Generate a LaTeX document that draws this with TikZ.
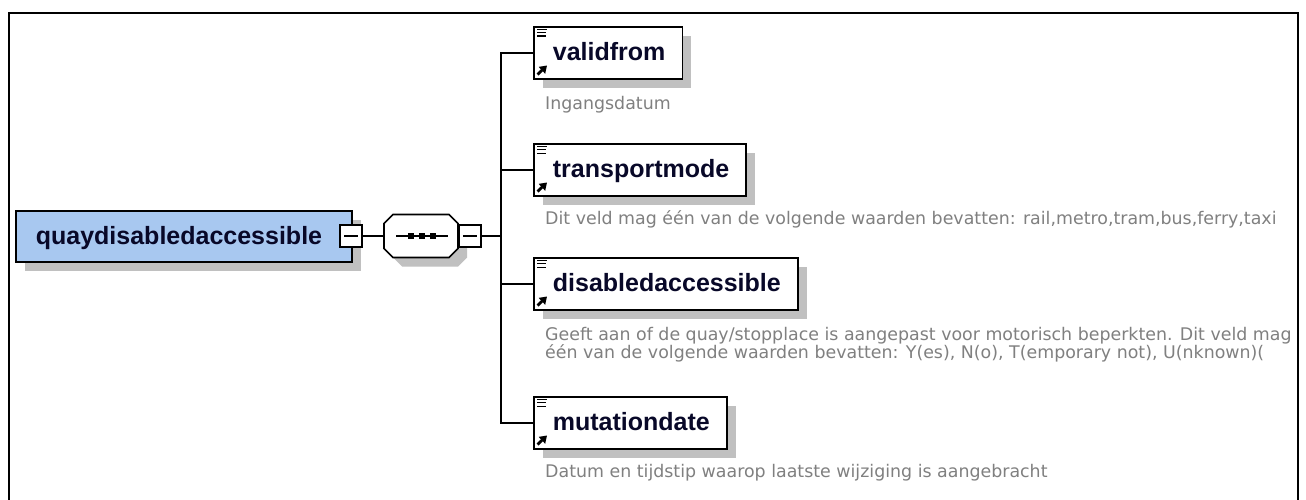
\documentclass[tikz,border=0pt]{standalone}
\usepackage{fontspec}
\usetikzlibrary{shadows,arrows.meta}
\newfontfamily\namefont{Liberation Sans}
\newfontfamily\descfont{DejaVu Sans}
\definecolor{boxblue}{RGB}{168,200,240}
\definecolor{shadowgray}{RGB}{192,192,192}
\definecolor{desccol}{RGB}{128,128,128}
\definecolor{namecol}{RGB}{8,8,40}
\tikzset{
  pics/elemicons/.style={code={
    \draw[line width=1.2pt] (4,3.5) -- (14,3.5) (4,6.8) -- (13,6.8) (4,10.1) -- (13,10.1);
    \draw[line width=2.8pt, -{Triangle[length=7pt,width=9pt]}] (4.5,48.5) -- (14,39.5);
  }}
}
\begin{document}
\begin{tikzpicture}[x=1pt,y=-1pt,
  conn/.style={line width=1.7pt},
  shad/.style={drop shadow={shadow xshift=9pt,shadow yshift=-9pt,fill=shadowgray,opacity=1}},
  namefnt/.style={font=\namefont\bfseries\fontsize{25}{28}\selectfont, text=namecol},
  elem/.style={draw, line width=1.8pt, fill=white, shad, minimum height=52pt,
    inner xsep=0pt, inner ysep=0pt, text height=20pt, text depth=4pt, namefnt, anchor=north west},
  desc/.style={inner sep=0pt, anchor=base west, text=desccol,
    font=\descfont\fontsize{17.4}{18}\selectfont},
  minusbox/.style={draw, line width=1.5pt, fill=white, minimum size=22pt, inner sep=0pt},
]
\useasboundingbox (0,0) rectangle (1306,500);
\fill[white] (0,0) rectangle (1306,500);
% outer frame
\draw[line width=2pt] (9,500) -- (9,13) -- (1298,13) -- (1298,500);

% root element
\node[draw, line width=1.8pt, fill=boxblue, shad, minimum width=336pt, minimum height=51pt,
  inner sep=0pt, text height=20pt, text depth=4pt, namefnt] (main) at (184,236.5)
  {quaydisabledaccessible\hspace*{10pt}};
\node[minusbox] (m1) at (351,236) {};
\draw[line width=1.4pt] ([xshift=-7pt]m1.center) -- ([xshift=7pt]m1.center);

% sequence compositor
\node[minimum width=74pt, minimum height=43pt, inner sep=0pt] (seq) at (421,236) {};
\begin{scope}[shift={(seq.center)}]
  \fill[shadowgray, shift={(9,9)}] (-28,-21.5) -- (28,-21.5) -- (37,-12.5) -- (37,12.5)
    -- (28,21.5) -- (-28,21.5) -- (-37,12.5) -- (-37,-12.5) -- cycle;
  \draw[line width=1.6pt, fill=white] (-28,-21.5) -- (28,-21.5) -- (37,-12.5) -- (37,12.5)
    -- (28,21.5) -- (-28,21.5) -- (-37,12.5) -- (-37,-12.5) -- cycle;
  \draw[line width=1.6pt] (-25,0) -- (27,0);
  \fill (-13,-3) rectangle (-7,3);
  \fill (-2,-3) rectangle (4,3);
  \fill (9,-3) rectangle (15,3);
\end{scope}
\node[minusbox, anchor=west] (m2) at (seq.east) {};
\draw[line width=1.4pt] ([xshift=-7pt]m2.center) -- ([xshift=7pt]m2.center);

\draw[conn] (m1.east) -- (seq.west);
\coordinate (J) at (501,236);
\draw[conn] (m2.east) -- (J);

% child elements
\node[elem] (vf) at (533,26) {\hspace*{19pt}validfrom\hspace*{17pt}};
\node[elem] (tm) at (533,143) {\hspace*{19pt}transportmode\hspace*{17pt}};
\node[elem] (da) at (533,257) {\hspace*{19pt}disabledaccessible\hspace*{17pt}};
\node[elem] (md) at (533,396) {\hspace*{19pt}mutationdate\hspace*{17pt}};
\pic at (vf.north west) {elemicons};
\pic at (tm.north west) {elemicons};
\pic at (da.north west) {elemicons};
\pic at (md.north west) {elemicons};

\draw[conn] (J) |- (vf.west);
\draw[conn] (J) |- (tm.west);
\draw[conn] (J) |- (da.west);
\draw[conn] (J) |- (md.west);

% annotations
\node[desc] (d1) at (545,110) {Ingangsdatum};
\node[desc] (d2) at (545,224) {Dit veld mag één van de volgende waarden bevatten: rail,metro,tram,bus,ferry,taxi};
\node[desc, align=left, anchor=north west] (d3) at (545,327)
  {Geeft aan of de quay/stopplace is aangepast voor motorisch beperkten. Dit veld mag\\één van de volgende waarden bevatten: Y(es), N(o), T(emporary not), U(nknown)(};
\node[desc] (d4) at (545,477) {Datum en tijdstip waarop laatste wijziging is aangebracht};
\end{tikzpicture}
\end{document}
